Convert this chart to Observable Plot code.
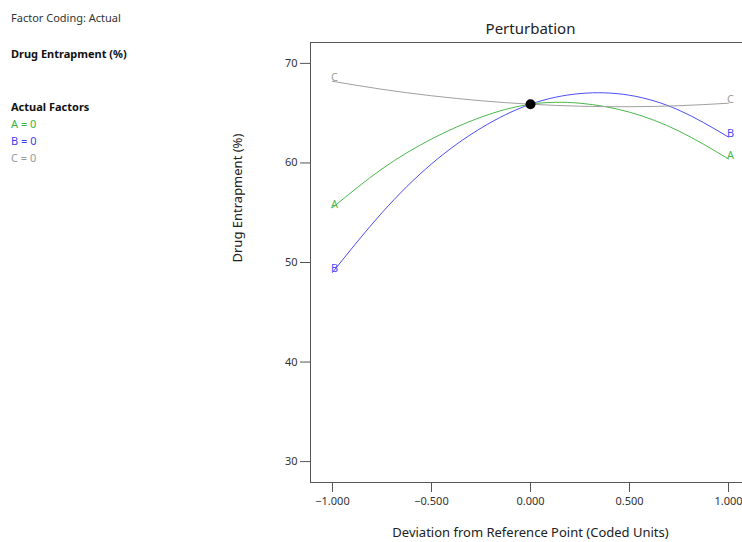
<!DOCTYPE html>
<html><head><meta charset="utf-8">
<script src="https://cdn.jsdelivr.net/npm/d3@7"></script>
<script src="https://cdn.jsdelivr.net/npm/@observablehq/plot@0.6"></script>
<style>
body{margin:0;overflow:hidden;background:#fff;font-family:"Noto Sans",sans-serif;}
#wrap{position:relative;width:742px;height:542px;overflow:hidden;}
.side{position:absolute;left:11px;font-size:11px;line-height:14px;color:#333;white-space:nowrap;}
.b{font-weight:bold;color:#111;}
</style></head><body><div id="wrap">
<div class="side" style="top:11px">Factor Coding: Actual</div>
<div class="side b" style="top:47px">Drug Entrapment (%)</div>
<div class="side b" style="top:100px">Actual Factors</div>
<div class="side" style="top:117px;color:#3cb43c">A = 0</div>
<div class="side" style="top:134px;color:#3c3cf0">B = 0</div>
<div class="side" style="top:151px;color:#999">C = 0</div>
</div>
<script>
const deviation = [-1, -0.75, -0.5, -0.25, 0, 0.25, 0.5, 0.75, 1];
const seriesA = [55.5, 59.4, 62.4, 64.6, 65.9, 66.0, 65.1, 63.2, 60.4];
const seriesB = [49.0, 55.0, 59.9, 63.5, 65.9, 66.97, 66.8, 65.3, 62.6];
const seriesC = [68.2, 67.4, 66.75, 66.25, 65.9, 65.7, 65.65, 65.75, 66.0];
const factorNames = ["A", "B", "C"];
const factorColors = ["#4cb84c", "#4d4df8", "#a0a0a0"];
const referencePoint = {x: 0, y: 65.9};
const xTicks = [-1, -0.5, 0, 0.5, 1];
const yTicks = [30, 40, 50, 60, 70];

const seriesList = [seriesA, seriesB, seriesC];
const rows = [];
seriesList.forEach((s, i) => s.forEach((v, j) => rows.push({f: factorNames[i], x: deviation[j], y: v})));
const ends = [];
seriesList.forEach((s, i) => {
  ends.push({f: factorNames[i], x: deviation[0], y: s[0]});
  ends.push({f: factorNames[i], x: deviation[deviation.length - 1], y: s[s.length - 1]});
});

const chart = Plot.plot({
  width: 742, height: 542,
  marginLeft: 310, marginRight: -8, marginTop: 42, marginBottom: 60,
  style: {fontFamily: "Noto Sans, sans-serif", fontSize: "11px", color: "#333", overflow: "hidden", background: "white"},
  x: {domain: [-1.111, 1.111]},
  y: {domain: [27.9, 72.1]},
  color: {domain: factorNames, range: factorColors},
  marks: [
    Plot.frame({stroke: "#555"}),
    Plot.axisX({ticks: xTicks, tickSize: 10, tickPadding: 5, tickFormat: d3.format(".3f"), label: null, stroke: "#555"}),
    Plot.axisY({ticks: yTicks, tickSize: 10, tickPadding: 3, label: null, stroke: "#555"}),
    Plot.line(rows, {x: "x", y: "y", z: "f", stroke: "f", curve: "natural", strokeWidth: 1}),
    Plot.text(ends, {x: "x", y: "y", text: "f", fill: "f", lineAnchor: "bottom", dx: 2, fontSize: 11}),
    Plot.dot([referencePoint], {x: "x", y: "y", r: 5, fill: "black"}),
    Plot.text(["Perturbation"], {frameAnchor: "top", lineAnchor: "middle", dy: -13, fontSize: 15, fill: "#222"}),
    Plot.text(["Deviation from Reference Point (Coded Units)"], {frameAnchor: "bottom", lineAnchor: "middle", dy: 50, fontSize: 13, fill: "#222"}),
    Plot.text(["Drug Entrapment (%)"], {frameAnchor: "left", dx: -73, rotate: -90, fontSize: 13, fill: "#222"})
  ]
});
chart.style.position = "absolute";
chart.style.left = "0";
chart.style.top = "0";
document.getElementById("wrap").prepend(chart);
</script>
</body></html>
